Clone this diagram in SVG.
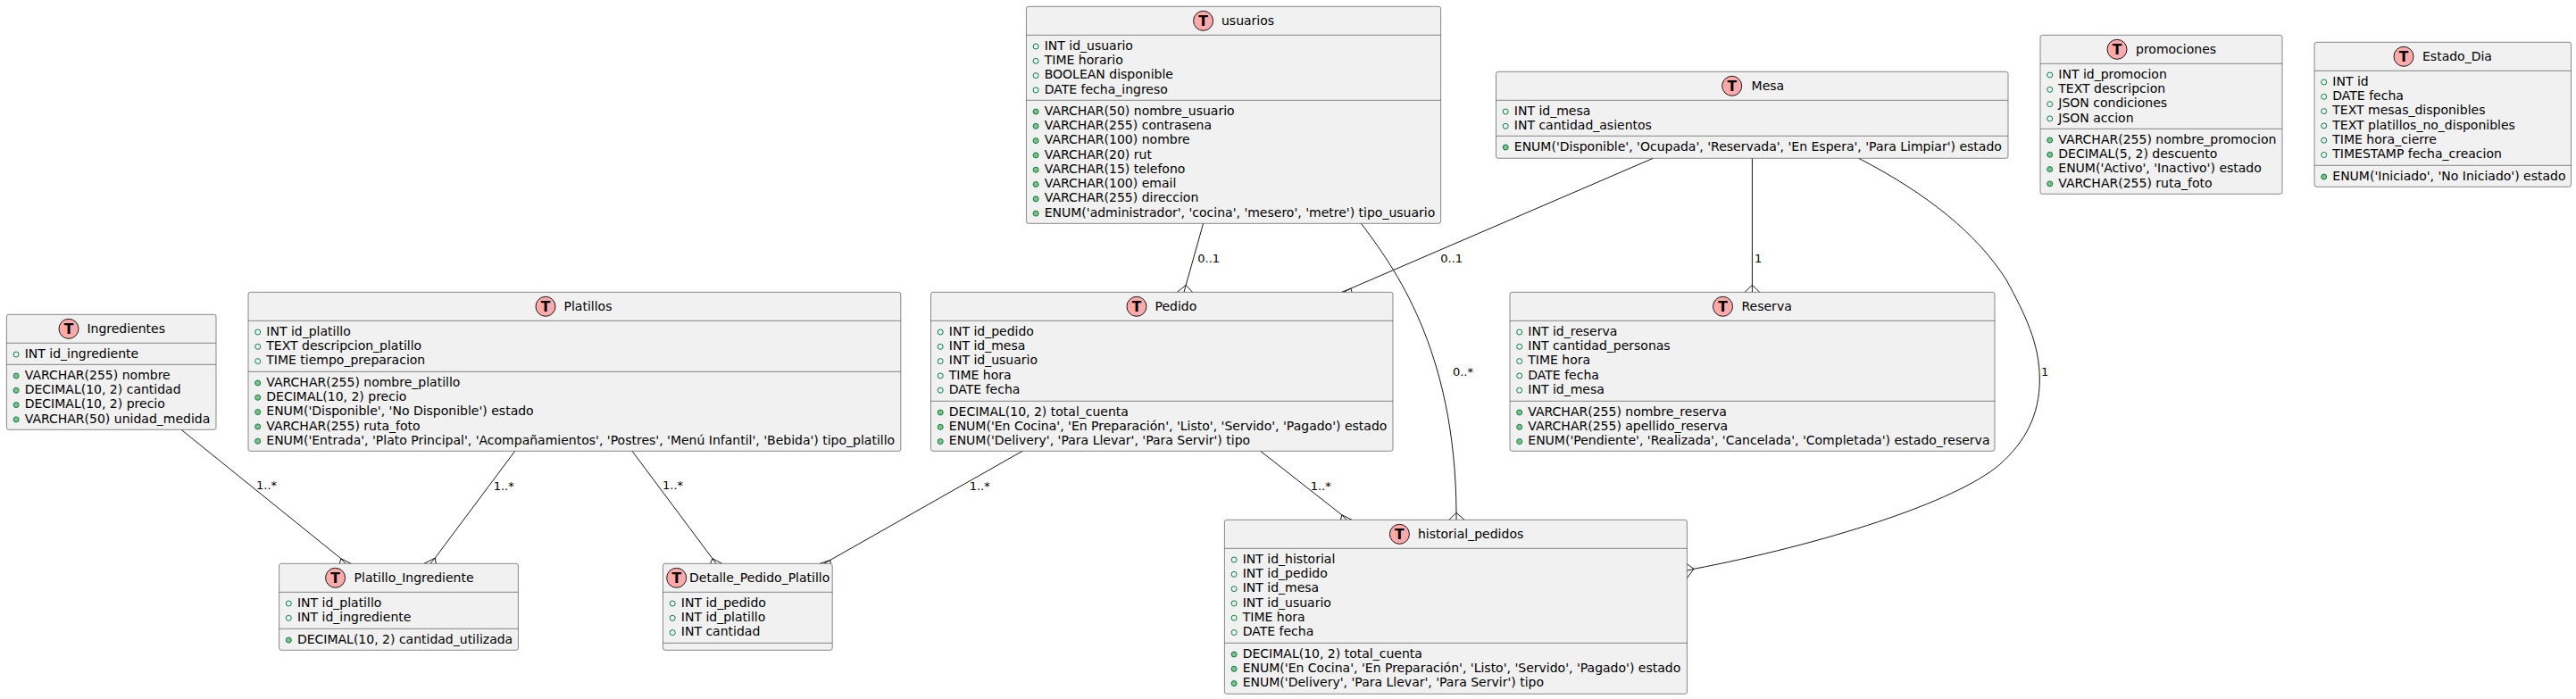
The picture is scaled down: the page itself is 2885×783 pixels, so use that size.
<svg xmlns="http://www.w3.org/2000/svg" width="2885" height="783" viewBox="0 0 2885 783">
<style>
text{font-family:"DejaVu Sans",sans-serif;font-size:14px;fill:#000}
.l{font-size:13px}
.t{font-weight:bold;font-size:15.5px;text-anchor:middle}
.b{fill:#F1F1F1;stroke:#181818;stroke-width:.5}
.s{stroke:#181818;stroke-width:.5}
.i{fill:#FFAAAA;stroke:#181818;stroke-width:1}
.o{fill:#F1F1F1;stroke:#038048;stroke-width:1}
.f{fill:#84BE84;stroke:#038048;stroke-width:1}
#connectors path{fill:none;stroke:#181818;stroke-width:1}
</style>
<rect width="2885" height="783" fill="#fff"/>
<g id="connectors">
<path d="M1347.6,250.3L1328.2,319.3M1318.3,327.3L1328.2,319.3L1335.5,327.3M1328.2,319.3L1326,327.3"/>
<path d="M1851.4,177.3L1513,323M1502.7,327.3L1513,323L1514,327.3M1513,323L1505,327.3"/>
<path d="M1962.4,177.3L1962.4,319.3M1954,327.3L1962.4,319.3L1970.7,327.3M1962.4,319.3L1962.4,327.3"/>
<path d="M1524.4,250.3C1560,298 1630,390 1631,574.3M1623,582.3L1631,574.3L1640,582.3M1631,574.3L1631,582.3"/>
<path d="M2081.7,177.3C2160,218 2214,262 2246.7,313C2268,352 2284.3,385 2284.3,425C2284.3,465 2268,495 2240,520C2190,563 2040,610 1897,637.3M1889.3,631.7L1897,637.3L1889.3,647.7M1897,637.3L1889.3,639.3"/>
<path d="M203.5,481.7L381.8,625.7M380.4,631.3L381.8,625.7L393,631.3M381.8,625.7L387,631.3"/>
<path d="M576.7,505.3L487.3,625M475,631.3L487.3,625L488.3,631.3M487.3,625L482,631.3"/>
<path d="M708,505.3L797.9,625.7M795.6,631.3L797.9,625.7L808.6,631.3M797.9,625.7L802,631.3"/>
<path d="M1145,505.3L930,627.3M918.3,631.3L930,627.3L930,631.3M930,627.3L923,631.3"/>
<path d="M1411.7,505.3L1502.7,576.7M1501.5,582.3L1502.7,576.7L1514,582.3M1502.7,576.7L1508,582.3"/>
<text class="l" x="1341.3" y="294">0..1</text>
<text class="l" x="1613.3" y="294">0..1</text>
<text class="l" x="1965" y="294">1</text>
<text class="l" x="1626.9" y="420.7">0..*</text>
<text class="l" x="2286" y="420.7">1</text>
<text class="l" x="287" y="548.3">1..*</text>
<text class="l" x="552.7" y="548.7">1..*</text>
<text class="l" x="742" y="548.3">1..*</text>
<text class="l" x="1085.7" y="549">1..*</text>
<text class="l" x="1467.7" y="549">1..*</text>
</g>

<g id="usuarios" transform="translate(1149.4,7.3)">
<rect class="b" width="464.2" height="243" rx="2.5"/><line class="s" x2="464.2" y1="32" y2="32"/><line class="s" x2="464.2" y1="105" y2="105"/>
<ellipse class="i" cx="198.2" cy="16" rx="11" ry="11"/><text class="t" x="198.2" y="22">T</text><text x="218.6" y="21">usuarios</text>
<circle class="o" r="3" cx="10.7" cy="44.7"/><text x="20.3" y="48.4">INT id_usuario</text>
<circle class="o" r="3" cx="10.7" cy="61"/><text x="20.3" y="64.7">TIME horario</text>
<circle class="o" r="3" cx="10.7" cy="77.3"/><text x="20.3" y="81">BOOLEAN disponible</text>
<circle class="o" r="3" cx="10.7" cy="93.6"/><text x="20.3" y="97.3">DATE fecha_ingreso</text>
<circle class="f" r="3" cx="10.7" cy="117.7"/><text x="20.3" y="121.4">VARCHAR(50) nombre_usuario</text>
<circle class="f" r="3" cx="10.7" cy="134"/><text x="20.3" y="137.7">VARCHAR(255) contrasena</text>
<circle class="f" r="3" cx="10.7" cy="150.3"/><text x="20.3" y="154">VARCHAR(100) nombre</text>
<circle class="f" r="3" cx="10.7" cy="166.6"/><text x="20.3" y="170.3">VARCHAR(20) rut</text>
<circle class="f" r="3" cx="10.7" cy="182.9"/><text x="20.3" y="186.6">VARCHAR(15) telefono</text>
<circle class="f" r="3" cx="10.7" cy="199.2"/><text x="20.3" y="202.9">VARCHAR(100) email</text>
<circle class="f" r="3" cx="10.7" cy="215.5"/><text x="20.3" y="219.2">VARCHAR(255) direccion</text>
<circle class="f" r="3" cx="10.7" cy="231.8"/><text x="20.3" y="235.5">ENUM('administrador', 'cocina', 'mesero', 'metre') tipo_usuario</text>
</g>

<g id="Mesa" transform="translate(1675.5,80.3)">
<rect class="b" width="573.5" height="97" rx="2.5"/><line class="s" x2="573.5" y1="32" y2="32"/><line class="s" x2="573.5" y1="72" y2="72"/>
<ellipse class="i" cx="264.2" cy="16" rx="11" ry="11"/><text class="t" x="264.2" y="22">T</text><text x="286.1" y="21">Mesa</text>
<circle class="o" r="3" cx="10.7" cy="44.7"/><text x="20.3" y="48.4">INT id_mesa</text>
<circle class="o" r="3" cx="10.7" cy="61"/><text x="20.3" y="64.7">INT cantidad_asientos</text>
<circle class="f" r="3" cx="10.7" cy="84.7"/><text x="20.3" y="88.4">ENUM('Disponible', 'Ocupada', 'Reservada', 'En Espera', 'Para Limpiar') estado</text>
</g>

<g id="promociones" transform="translate(2285,39.3)">
<rect class="b" width="271" height="178" rx="2.5"/><line class="s" x2="271" y1="32" y2="32"/><line class="s" x2="271" y1="105" y2="105"/>
<ellipse class="i" cx="86" cy="16" rx="11" ry="11"/><text class="t" x="86" y="22">T</text><text x="107" y="21">promociones</text>
<circle class="o" r="3" cx="10.7" cy="44.7"/><text x="20.3" y="48.4">INT id_promocion</text>
<circle class="o" r="3" cx="10.7" cy="61"/><text x="20.3" y="64.7">TEXT descripcion</text>
<circle class="o" r="3" cx="10.7" cy="77.3"/><text x="20.3" y="81">JSON condiciones</text>
<circle class="o" r="3" cx="10.7" cy="93.6"/><text x="20.3" y="97.3">JSON accion</text>
<circle class="f" r="3" cx="10.7" cy="117.7"/><text x="20.3" y="121.4">VARCHAR(255) nombre_promocion</text>
<circle class="f" r="3" cx="10.7" cy="134"/><text x="20.3" y="137.7">DECIMAL(5, 2) descuento</text>
<circle class="f" r="3" cx="10.7" cy="150.3"/><text x="20.3" y="154">ENUM('Activo', 'Inactivo') estado</text>
<circle class="f" r="3" cx="10.7" cy="166.6"/><text x="20.3" y="170.3">VARCHAR(255) ruta_foto</text>
</g>

<g id="Estado_Dia" transform="translate(2592,47.3)">
<rect class="b" width="287.5" height="162" rx="2.5"/><line class="s" x2="287.5" y1="32" y2="32"/><line class="s" x2="287.5" y1="138" y2="138"/>
<ellipse class="i" cx="100" cy="16" rx="11" ry="11"/><text class="t" x="100" y="22">T</text><text x="121" y="21">Estado_Dia</text>
<circle class="o" r="3" cx="10.7" cy="44.7"/><text x="20.3" y="48.4">INT id</text>
<circle class="o" r="3" cx="10.7" cy="61"/><text x="20.3" y="64.7">DATE fecha</text>
<circle class="o" r="3" cx="10.7" cy="77.3"/><text x="20.3" y="81">TEXT mesas_disponibles</text>
<circle class="o" r="3" cx="10.7" cy="93.6"/><text x="20.3" y="97.3">TEXT platillos_no_disponibles</text>
<circle class="o" r="3" cx="10.7" cy="109.9"/><text x="20.3" y="113.6">TIME hora_cierre</text>
<circle class="o" r="3" cx="10.7" cy="126.2"/><text x="20.3" y="129.9">TIMESTAMP fecha_creacion</text>
<circle class="f" r="3" cx="10.7" cy="150.7"/><text x="20.3" y="154.4">ENUM('Iniciado', 'No Iniciado') estado</text>
</g>

<g id="Ingredientes" transform="translate(7.4,352.3)">
<rect class="b" width="234.6" height="129" rx="2.5"/><line class="s" x2="234.6" y1="32" y2="32"/><line class="s" x2="234.6" y1="56" y2="56"/>
<ellipse class="i" cx="69.6" cy="16" rx="11" ry="11"/><text class="t" x="69.6" y="22">T</text><text x="90" y="21">Ingredientes</text>
<circle class="o" r="3" cx="10.7" cy="44.7"/><text x="20.3" y="48.4">INT id_ingrediente</text>
<circle class="f" r="3" cx="10.7" cy="68.7"/><text x="20.3" y="72.4">VARCHAR(255) nombre</text>
<circle class="f" r="3" cx="10.7" cy="85"/><text x="20.3" y="88.7">DECIMAL(10, 2) cantidad</text>
<circle class="f" r="3" cx="10.7" cy="101.3"/><text x="20.3" y="105">DECIMAL(10, 2) precio</text>
<circle class="f" r="3" cx="10.7" cy="117.6"/><text x="20.3" y="121.3">VARCHAR(50) unidad_medida</text>
</g>

<g id="Platillos" transform="translate(278,327.3)">
<rect class="b" width="730.8" height="178" rx="2.5"/><line class="s" x2="730.8" y1="32" y2="32"/><line class="s" x2="730.8" y1="89" y2="89"/>
<ellipse class="i" cx="333" cy="16" rx="11" ry="11"/><text class="t" x="333" y="22">T</text><text x="353.5" y="21">Platillos</text>
<circle class="o" r="3" cx="10.7" cy="44.7"/><text x="20.3" y="48.4">INT id_platillo</text>
<circle class="o" r="3" cx="10.7" cy="61"/><text x="20.3" y="64.7">TEXT descripcion_platillo</text>
<circle class="o" r="3" cx="10.7" cy="77.3"/><text x="20.3" y="81">TIME tiempo_preparacion</text>
<circle class="f" r="3" cx="10.7" cy="101.7"/><text x="20.3" y="105.4">VARCHAR(255) nombre_platillo</text>
<circle class="f" r="3" cx="10.7" cy="118"/><text x="20.3" y="121.7">DECIMAL(10, 2) precio</text>
<circle class="f" r="3" cx="10.7" cy="134.3"/><text x="20.3" y="138">ENUM('Disponible', 'No Disponible') estado</text>
<circle class="f" r="3" cx="10.7" cy="150.6"/><text x="20.3" y="154.3">VARCHAR(255) ruta_foto</text>
<circle class="f" r="3" cx="10.7" cy="166.9"/><text x="20.3" y="170.6">ENUM('Entrada', 'Plato Principal', 'Acompañamientos', 'Postres', 'Menú Infantil', 'Bebida') tipo_platillo</text>
</g>

<g id="Pedido" transform="translate(1042.5,327.3)">
<rect class="b" width="517.5" height="178" rx="2.5"/><line class="s" x2="517.5" y1="32" y2="32"/><line class="s" x2="517.5" y1="122" y2="122"/>
<ellipse class="i" cx="230.5" cy="16" rx="11" ry="11"/><text class="t" x="230.5" y="22">T</text><text x="251" y="21">Pedido</text>
<circle class="o" r="3" cx="10.7" cy="44.7"/><text x="20.3" y="48.4">INT id_pedido</text>
<circle class="o" r="3" cx="10.7" cy="61"/><text x="20.3" y="64.7">INT id_mesa</text>
<circle class="o" r="3" cx="10.7" cy="77.3"/><text x="20.3" y="81">INT id_usuario</text>
<circle class="o" r="3" cx="10.7" cy="93.6"/><text x="20.3" y="97.3">TIME hora</text>
<circle class="o" r="3" cx="10.7" cy="109.9"/><text x="20.3" y="113.6">DATE fecha</text>
<circle class="f" r="3" cx="10.7" cy="134.7"/><text x="20.3" y="138.4">DECIMAL(10, 2) total_cuenta</text>
<circle class="f" r="3" cx="10.7" cy="151"/><text x="20.3" y="154.7">ENUM('En Cocina', 'En Preparación', 'Listo', 'Servido', 'Pagado') estado</text>
<circle class="f" r="3" cx="10.7" cy="167.3"/><text x="20.3" y="171">ENUM('Delivery', 'Para Llevar', 'Para Servir') tipo</text>
</g>

<g id="Reserva" transform="translate(1691,327.3)">
<rect class="b" width="543" height="178" rx="2.5"/><line class="s" x2="543" y1="32" y2="32"/><line class="s" x2="543" y1="122" y2="122"/>
<ellipse class="i" cx="238.5" cy="16" rx="11" ry="11"/><text class="t" x="238.5" y="22">T</text><text x="259.5" y="21">Reserva</text>
<circle class="o" r="3" cx="10.7" cy="44.7"/><text x="20.3" y="48.4">INT id_reserva</text>
<circle class="o" r="3" cx="10.7" cy="61"/><text x="20.3" y="64.7">INT cantidad_personas</text>
<circle class="o" r="3" cx="10.7" cy="77.3"/><text x="20.3" y="81">TIME hora</text>
<circle class="o" r="3" cx="10.7" cy="93.6"/><text x="20.3" y="97.3">DATE fecha</text>
<circle class="o" r="3" cx="10.7" cy="109.9"/><text x="20.3" y="113.6">INT id_mesa</text>
<circle class="f" r="3" cx="10.7" cy="134.7"/><text x="20.3" y="138.4">VARCHAR(255) nombre_reserva</text>
<circle class="f" r="3" cx="10.7" cy="151"/><text x="20.3" y="154.7">VARCHAR(255) apellido_reserva</text>
<circle class="f" r="3" cx="10.7" cy="167.3"/><text x="20.3" y="171">ENUM('Pendiente', 'Realizada', 'Cancelada', 'Completada') estado_reserva</text>
</g>

<g id="Platillo_Ingrediente" transform="translate(312.6,631.3)">
<rect class="b" width="267.8" height="97" rx="2.5"/><line class="s" x2="267.8" y1="32" y2="32"/><line class="s" x2="267.8" y1="73" y2="73"/>
<ellipse class="i" cx="63" cy="16" rx="11" ry="11"/><text class="t" x="63" y="22">T</text><text x="84" y="21">Platillo_Ingrediente</text>
<circle class="o" r="3" cx="10.7" cy="44.7"/><text x="20.3" y="48.4">INT id_platillo</text>
<circle class="o" r="3" cx="10.7" cy="61"/><text x="20.3" y="64.7">INT id_ingrediente</text>
<circle class="f" r="3" cx="10.7" cy="85.7"/><text x="20.3" y="89.4">DECIMAL(10, 2) cantidad_utilizada</text>
</g>

<g id="Detalle_Pedido_Platillo" transform="translate(742.5,631.3)">
<rect class="b" width="189.7" height="97" rx="2.5"/><line class="s" x2="189.7" y1="32" y2="32"/><line class="s" x2="189.7" y1="89" y2="89"/>
<ellipse class="i" cx="15.2" cy="16" rx="11" ry="11"/><text class="t" x="15.2" y="22">T</text><text x="29.5" y="21">Detalle_Pedido_Platillo</text>
<circle class="o" r="3" cx="10.7" cy="44.7"/><text x="20.3" y="48.4">INT id_pedido</text>
<circle class="o" r="3" cx="10.7" cy="61"/><text x="20.3" y="64.7">INT id_platillo</text>
<circle class="o" r="3" cx="10.7" cy="77.3"/><text x="20.3" y="81">INT cantidad</text>
</g>

<g id="historial_pedidos" transform="translate(1371.4,582.3)">
<rect class="b" width="518" height="195" rx="2.5"/><line class="s" x2="518" y1="32" y2="32"/><line class="s" x2="518" y1="138" y2="138"/>
<ellipse class="i" cx="196" cy="16" rx="11" ry="11"/><text class="t" x="196" y="22">T</text><text x="216.6" y="21">historial_pedidos</text>
<circle class="o" r="3" cx="10.7" cy="44.7"/><text x="20.3" y="48.4">INT id_historial</text>
<circle class="o" r="3" cx="10.7" cy="61"/><text x="20.3" y="64.7">INT id_pedido</text>
<circle class="o" r="3" cx="10.7" cy="77.3"/><text x="20.3" y="81">INT id_mesa</text>
<circle class="o" r="3" cx="10.7" cy="93.6"/><text x="20.3" y="97.3">INT id_usuario</text>
<circle class="o" r="3" cx="10.7" cy="109.9"/><text x="20.3" y="113.6">TIME hora</text>
<circle class="o" r="3" cx="10.7" cy="126.2"/><text x="20.3" y="129.9">DATE fecha</text>
<circle class="f" r="3" cx="10.7" cy="150.7"/><text x="20.3" y="154.4">DECIMAL(10, 2) total_cuenta</text>
<circle class="f" r="3" cx="10.7" cy="167"/><text x="20.3" y="170.7">ENUM('En Cocina', 'En Preparación', 'Listo', 'Servido', 'Pagado') estado</text>
<circle class="f" r="3" cx="10.7" cy="183.3"/><text x="20.3" y="187">ENUM('Delivery', 'Para Llevar', 'Para Servir') tipo</text>
</g>
</svg>
